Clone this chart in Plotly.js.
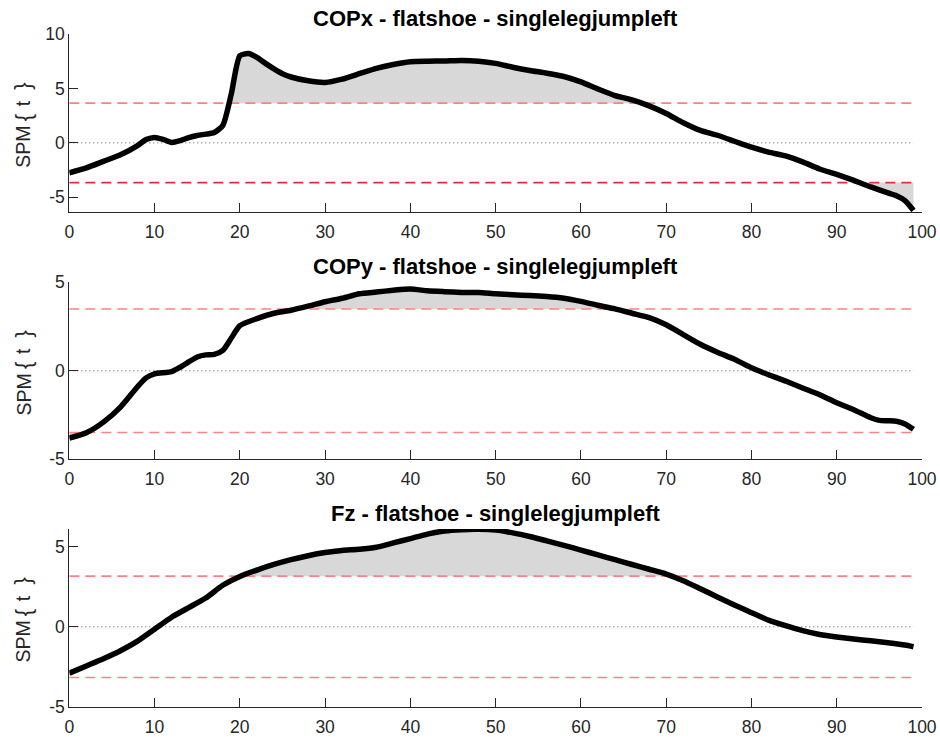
<!DOCTYPE html>
<html>
<head>
<meta charset="utf-8">
<script src="https://cdn.plot.ly/plotly-3.0.1.min.js"></script>
<style>
  html, body { margin: 0; padding: 0; background: #ffffff; }
  #chart { width: 940px; height: 737px; }
</style>
</head>
<body>
<div id="chart"></div>
<script>
// SPM{t} trajectories over 0-100 % of the movement, with critical thresholds
const titles = [
  'COPx - flatshoe - singlelegjumpleft',
  'COPy - flatshoe - singlelegjumpleft',
  'Fz - flatshoe - singlelegjumpleft'
];

const copxX = [0,2,4,6,8,9,10,11,12,13,14,15,16,17,18,19,20,21,22,23,24,25,26,
  28,30,32,34,36,38,40,42,44,46,48,50,52,54,56,58,60,62,64,66,68,70,72,74,76,78,
  80,82,84,86,88,90,92,94,96,97,98,99];
const copxT = [-2.75,-2.3,-1.7,-1.1,-0.25,0.3,0.5,0.32,0.04,0.2,0.48,0.68,0.8,0.95,
  1.6,4.5,8.0,8.2,7.85,7.3,6.8,6.35,6.05,
  5.7,5.55,5.85,6.35,6.85,7.2,7.45,7.5,7.52,7.57,7.5,7.3,6.95,6.65,6.4,6.1,5.6,
  4.95,4.35,3.95,3.4,2.7,1.85,1.15,0.7,0.15,-0.4,-0.85,-1.2,-1.75,-2.4,-2.9,
  -3.45,-4.05,-4.6,-4.85,-5.3,-6.2];

const copyX = [0,2,4,6,8,9,10,12,13,14,15,16,17,18,19,20,22,24,26,28,30,32,34,36,
  38,40,42,44,46,48,50,52,54,56,58,60,62,64,66,68,70,72,74,76,78,80,82,84,86,88,
  90,92,94,95,96,97,98,99];
const copyT = [-3.8,-3.5,-2.9,-2.05,-0.9,-0.4,-0.17,-0.05,0.2,0.5,0.78,0.9,0.93,
  1.15,1.85,2.55,2.95,3.25,3.42,3.65,3.9,4.1,4.35,4.45,4.55,4.62,4.52,4.47,4.43,
  4.42,4.35,4.3,4.25,4.2,4.1,3.92,3.7,3.5,3.25,3.0,2.6,2.05,1.5,1.05,0.65,0.17,
  -0.22,-0.58,-0.97,-1.35,-1.8,-2.2,-2.65,-2.8,-2.82,-2.85,-3.0,-3.3];

const fzX = [0,2,4,6,8,10,12,14,16,18,20,22,24,26,28,30,32,34,36,38,40,42,44,46,
  48,50,52,54,56,58,60,62,64,66,68,70,72,74,76,78,80,82,84,86,88,90,92,94,96,98,99];
const fzT = [-2.9,-2.45,-2.0,-1.5,-0.9,-0.15,0.6,1.2,1.8,2.6,
  3.15,3.55,3.9,4.2,4.45,4.65,4.78,4.85,4.98,5.25,
  5.52,5.8,6.0,6.08,6.1,6.05,5.88,5.65,5.38,5.1,
  4.8,4.5,4.2,3.9,3.6,3.3,2.88,2.38,1.87,1.37,
  0.88,0.42,0.07,-0.24,-0.48,-0.64,-0.77,-0.88,-1.0,-1.14,-1.25];

// critical t thresholds (alpha = 0.05)
const tCrit = [3.65, 3.49, 3.17];

// y limits and tick values per panel
const yRanges = [[-6.35, 10], [-5, 5], [-5, 6.12]];
const yTicks = [[-5, 0, 5, 10], [-5, 0, 5], [-5, 0, 5]];
const xTicks = [0, 10, 20, 30, 40, 50, 60, 70, 80, 90, 100];

// y-axis label pieces, laid out with generous spacing around the braces
const yLabelParts = ['SPM', '{', 't', '}'];
const yLabelShift = [-23.7, 4.7, 19.7, 36.3];
const yLabelSize = [19.5, 22, 19.5, 22];

const series = [[copxX, copxT], [copyX, copyT], [fzX, fzT]];

// geometry
const W = 940, H = 737;
const xDom = [69.3 / W, 922 / W];
const yPix = [[34, 212], [282.3, 459.3], [529, 706.7]];
const yDoms = yPix.map(p => [1 - p[1] / H, 1 - p[0] / H]);

const INK = '#262626';
const PINK = 'rgb(255,128,128)';
const RED = 'rgb(236,44,44)';
const FILL = 'rgb(216,216,216)';

// polygons of the supra-threshold clusters (curve vs. threshold)
function clusters(xs, ys, thr, sign) {
  const out = [];
  let cur = null;
  const above = i => sign * ys[i] > sign * thr;
  const cross = (i, j) => xs[i] + (thr - ys[i]) * (xs[j] - xs[i]) / (ys[j] - ys[i]);
  for (let i = 0; i < xs.length; i++) {
    if (above(i)) {
      if (!cur) {
        cur = { x: [], y: [] };
        if (i > 0) { cur.x.push(cross(i - 1, i)); cur.y.push(thr); }
        else { cur.x.push(xs[i]); cur.y.push(thr); }
      }
      cur.x.push(xs[i]); cur.y.push(ys[i]);
    } else if (cur) {
      cur.x.push(cross(i - 1, i)); cur.y.push(thr);
      out.push(cur); cur = null;
    }
  }
  if (cur) { cur.x.push(xs[xs.length - 1]); cur.y.push(thr); out.push(cur); }
  return out;
}

const traces = [];
const layout = {
  width: W, height: H,
  margin: { l: 0, r: 0, t: 0, b: 0 },
  paper_bgcolor: '#ffffff', plot_bgcolor: '#ffffff',
  showlegend: false,
  font: { family: 'Liberation Sans, Arial, Helvetica, sans-serif', color: INK, size: 17 },
  annotations: []
};

series.forEach((s, k) => {
  const xs = s[0], ys = s[1], thr = tCrit[k];
  const sfx = k === 0 ? '' : String(k + 1);
  const xa = 'x' + sfx, ya = 'y' + sfx;
  const x0 = xs[0], x1 = xs[xs.length - 1];

  // shaded clusters
  [1, -1].forEach(sg => {
    clusters(xs, ys, sg * thr, sg).forEach(c => {
      traces.push({
        type: 'scatter', mode: 'lines', xaxis: xa, yaxis: ya,
        x: c.x, y: c.y, fill: 'toself', fillcolor: FILL,
        line: { width: 0, color: FILL }, hoverinfo: 'skip'
      });
    });
  });

  // zero reference
  traces.push({
    type: 'scatter', mode: 'lines', xaxis: xa, yaxis: ya,
    x: [x0, x1], y: [0, 0],
    line: { color: '#555555', width: 1, dash: '1px,3px' }, hoverinfo: 'skip'
  });
  // critical thresholds
  traces.push({
    type: 'scatter', mode: 'lines', xaxis: xa, yaxis: ya,
    x: [x0, x1], y: [thr, thr],
    line: { color: PINK, width: 1.6, dash: '10px,6px' }, hoverinfo: 'skip'
  });
  traces.push({
    type: 'scatter', mode: 'lines', xaxis: xa, yaxis: ya,
    x: [x0, x1], y: [-thr, -thr],
    line: { color: k === 0 ? RED : PINK, width: 1.6, dash: '10px,6px' }, hoverinfo: 'skip'
  });
  // SPM{t} trajectory
  traces.push({
    type: 'scatter', mode: 'lines', xaxis: xa, yaxis: ya,
    x: xs, y: ys,
    line: { color: '#000000', width: 5.5, shape: 'spline', smoothing: 0.6 }
  });

  layout['xaxis' + sfx] = {
    domain: xDom, anchor: ya, range: [0, 100],
    showline: true, linecolor: INK, linewidth: 1,
    ticks: 'inside', ticklen: 9, tickwidth: 1, tickcolor: INK,
    tickvals: xTicks, ticktext: xTicks.map(String),
    showgrid: false, zeroline: false,
    tickfont: { size: 17.5, color: INK },
    ticklabelstandoff: 4
  };
  layout['yaxis' + sfx] = {
    domain: yDoms[k], anchor: xa, range: yRanges[k],
    showline: true, linecolor: INK, linewidth: 1,
    ticks: 'inside', ticklen: 9, tickwidth: 1, tickcolor: INK,
    tickvals: yTicks[k], ticktext: yTicks[k].map(String),
    showgrid: false, zeroline: false,
    tickfont: { size: 17.5, color: INK },
    ticklabelstandoff: 3.5
  };

  // panel title
  layout.annotations.push({
    xref: 'paper', yref: 'paper',
    x: (xDom[0] + xDom[1]) / 2, y: yDoms[k][1],
    xanchor: 'center', yanchor: 'bottom', yshift: 1,
    showarrow: false,
    text: '<b>' + titles[k] + '</b>',
    font: { size: 22, color: '#000000' }
  });
  // y-axis label: SPM { t }
  yLabelParts.forEach((part, j) => {
    layout.annotations.push({
      xref: 'paper', yref: 'paper',
      x: 23 / W, y: (yDoms[k][0] + yDoms[k][1]) / 2, yshift: yLabelShift[j],
      xanchor: 'center', yanchor: 'middle', textangle: -90,
      showarrow: false,
      text: part,
      font: { size: yLabelSize[j], color: INK }
    });
  });
});

Plotly.newPlot('chart', traces, layout, { staticPlot: true, displayModeBar: false });
</script>
</body>
</html>
